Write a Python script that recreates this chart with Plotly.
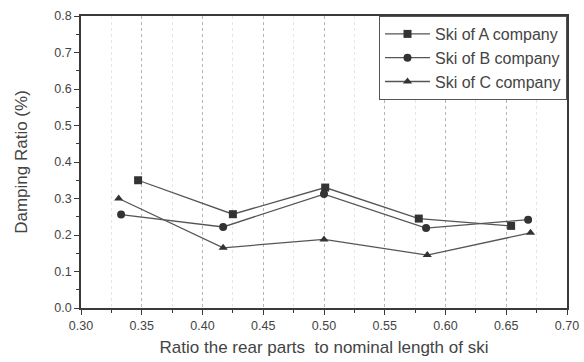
import plotly.graph_objects as go

# Ratio of rear part length to nominal ski length, and measured damping ratio (%)
ratio_a = [0.347, 0.425, 0.501, 0.578, 0.654]
damping_a = [0.350, 0.257, 0.330, 0.245, 0.225]

ratio_b = [0.333, 0.417, 0.500, 0.584, 0.668]
damping_b = [0.256, 0.222, 0.312, 0.219, 0.242]

ratio_c = [0.331, 0.417, 0.500, 0.585, 0.670]
damping_c = [0.300, 0.165, 0.188, 0.145, 0.206]

series_names = ["Ski of A company", "Ski of B company", "Ski of C company"]
symbols = ["square", "circle", "triangle-up"]

x_ticks = [0.30, 0.35, 0.40, 0.45, 0.50, 0.55, 0.60, 0.65, 0.70]
y_ticks = [0.0, 0.1, 0.2, 0.3, 0.4, 0.5, 0.6, 0.7, 0.8]

line_color = "#555555"
marker_color = "#333333"
axis_color = "#3a3a3a"
text_color = "#444444"

fig = go.Figure()
for xs, ys, name, sym in zip(
    [ratio_a, ratio_b, ratio_c],
    [damping_a, damping_b, damping_c],
    series_names,
    symbols,
):
    fig.add_trace(
        go.Scatter(
            x=xs,
            y=ys,
            name=name,
            mode="lines+markers",
            line=dict(color=line_color, width=1.3),
            marker=dict(symbol=sym, size=8, color=marker_color),
        )
    )

fig.update_layout(
    width=584,
    height=362,
    margin=dict(l=81, r=17, t=16, b=54),
    paper_bgcolor="white",
    plot_bgcolor="white",
    font=dict(family="Liberation Sans, Arial, sans-serif", size=12, color=text_color),
    legend=dict(
        x=1.0,
        y=1.0,
        xanchor="right",
        yanchor="top",
        bgcolor="white",
        bordercolor="#555555",
        borderwidth=1,
        font=dict(size=16, color=text_color),
        itemwidth=45,
        tracegroupgap=0,
    ),
    showlegend=True,
)

fig.update_xaxes(
    range=[0.30, 0.70],
    automargin=False,
    tickvals=x_ticks,
    ticktext=[f"{v:.2f}" for v in x_ticks],
    tickfont=dict(size=12.5),
    ticks="outside",
    ticklen=5,
    tickwidth=1.2,
    tickcolor=axis_color,
    showline=True,
    linecolor=axis_color,
    linewidth=1.5,
    mirror=True,
    showgrid=True,
    gridcolor="#b5b5b5",
    griddash="dot",
    gridwidth=1,
    zeroline=False,
    minor=dict(
        dtick=0.025,
        tick0=0.30,
        ticks="outside",
        ticklen=3,
        tickcolor=axis_color,
        showgrid=True,
        gridcolor="#e6e6e6",
        griddash="dot",
    ),
    title=dict(
        text="Ratio the rear parts  to nominal length of ski",
        font=dict(size=17, color=text_color),
        standoff=9,
    ),
)

fig.update_yaxes(
    range=[0.0, 0.8],
    automargin=False,
    tickvals=y_ticks,
    ticktext=[f"{v:.1f}" for v in y_ticks],
    tickfont=dict(size=12.5),
    ticks="outside",
    ticklen=5,
    tickwidth=1.2,
    tickcolor=axis_color,
    showline=True,
    linecolor=axis_color,
    linewidth=1.5,
    mirror=True,
    showgrid=False,
    zeroline=False,
    minor=dict(
        dtick=0.05,
        tick0=0.0,
        ticks="outside",
        ticklen=3,
        tickcolor=axis_color,
        showgrid=False,
    ),
    title=dict(
        text="Damping Ratio (%)",
        font=dict(size=17, color=text_color),
        standoff=22,
    ),
)

fig.write_html("out.html")
